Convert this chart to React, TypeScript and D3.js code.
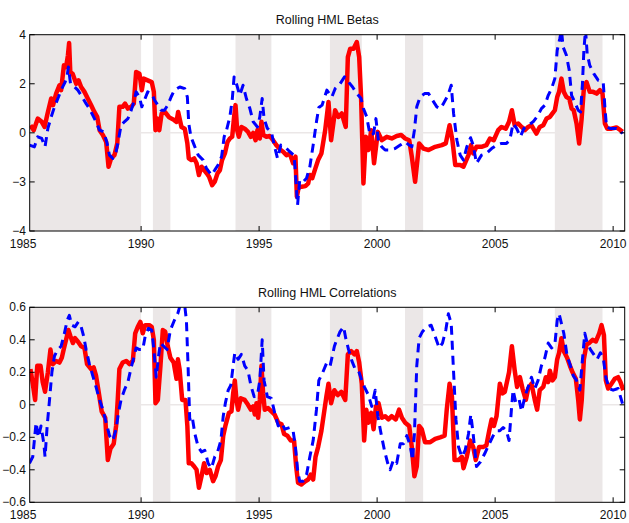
import React from 'react';
import * as d3 from 'd3';

const W = 629;
const H = 523;

// NBER-style shaded periods (fractional years)
const shadedPeriods: [number, number][] = [
  [1985.28, 1990.0], [1990.5, 1991.24], [1994.0, 1995.52],
  [1998.0, 1999.35], [2001.18, 2001.95], [2007.53, 2009.55],
];

const yearTicks = [1985, 1990, 1995, 2000, 2005, 2010];

const betaTicks = [4, 2, 0, -2, -4];
const betaTickLabels = ['4', '2', '0', '\u22123', '\u22124'];
const corrTicks = [0.6, 0.4, 0.2, 0, -0.2, -0.4, -0.6];
const corrTickLabels = ['0.6', '0.4', '0.2', '0', '\u22120.2', '\u22120.4', '\u22120.6'];

// rolling HML betas, solid red
const betaRed: [number, number][] = [
  [1985.31,0.31],[1985.45,0.11],[1985.62,0.58],[1985.79,0.45],[1985.91,0.24],[1986.02,0.72],[1986.19,1.40],[1986.27,1.13],
  [1986.40,1.60],[1986.54,1.94],[1986.61,1.74],[1986.73,2.75],[1986.82,2.68],[1986.90,3.16],[1986.95,3.66],[1987.00,2.48],
  [1987.10,2.41],[1987.25,2.00],[1987.35,2.14],[1987.46,1.87],[1987.60,1.67],[1987.74,1.40],[1987.88,1.13],[1988.02,0.85],
  [1988.14,0.65],[1988.24,0.11],[1988.38,-0.09],[1988.52,-0.37],[1988.62,-1.38],[1988.73,-1.04],[1988.87,-0.91],[1988.99,-0.43],
  [1989.08,1.06],[1989.22,1.06],[1989.32,1.19],[1989.44,0.99],[1989.58,1.06],[1989.69,1.19],[1989.79,2.48],[1989.93,2.41],
  [1990.03,1.74],[1990.11,2.21],[1990.28,2.14],[1990.45,2.07],[1990.54,1.67],[1990.61,0.11],[1990.70,0.58],[1990.77,0.11],
  [1990.87,0.79],[1991.01,0.85],[1991.19,0.63],[1991.40,0.52],[1991.50,0.45],[1991.57,0.85],[1991.71,0.24],[1991.85,0.17],
  [1991.96,-0.43],[1992.02,-1.04],[1992.13,-1.11],[1992.25,-1.04],[1992.35,-1.24],[1992.45,-1.72],[1992.56,-1.38],[1992.67,-1.52],
  [1992.78,-1.65],[1992.88,-1.79],[1993.01,-2.13],[1993.12,-1.99],[1993.24,-1.65],[1993.34,-1.52],[1993.43,-1.11],[1993.55,-0.84],
  [1993.66,-0.37],[1993.76,-0.23],[1993.86,-0.16],[1993.94,0.65],[1994.00,1.13],[1994.07,0.11],[1994.14,-0.16],[1994.25,0.24],
  [1994.39,0.17],[1994.53,0.04],[1994.65,-0.16],[1994.75,0.00],[1994.85,-0.30],[1994.93,0.11],[1995.03,-0.23],[1995.10,0.45],
  [1995.18,-0.09],[1995.31,-0.16],[1995.45,-0.13],[1995.59,-0.30],[1995.73,-0.50],[1995.92,-0.70],[1996.02,-0.77],[1996.16,-0.91],
  [1996.30,-0.84],[1996.44,-1.24],[1996.54,-0.97],[1996.60,-2.60],[1996.68,-2.20],[1996.80,-2.20],[1996.96,-2.17],[1997.08,-2.06],
  [1997.15,-1.72],[1997.25,-1.85],[1997.36,-1.52],[1997.50,-1.11],[1997.64,-0.84],[1997.80,0.11],[1997.94,1.26],[1998.05,-0.30],
  [1998.22,0.92],[1998.36,0.65],[1998.50,0.79],[1998.67,0.24],[1998.76,3.09],[1998.86,3.43],[1999.00,3.43],[1999.14,3.70],
  [1999.24,3.09],[1999.32,1.46],[1999.42,-2.06],[1999.52,-0.16],[1999.63,-0.70],[1999.75,0.11],[1999.87,-1.24],[2000.03,0.04],
  [2000.20,-0.30],[2000.41,-0.16],[2000.62,-0.23],[2000.83,-0.13],[2001.02,-0.09],[2001.19,-0.23],[2001.36,-0.30],[2001.47,-0.97],
  [2001.61,-1.99],[2001.78,-0.43],[2001.96,-0.64],[2002.18,-0.70],[2002.46,-0.57],[2002.74,-0.50],[2002.91,-0.43],[2003.07,0.31],
  [2003.19,-0.30],[2003.31,-1.31],[2003.52,-1.31],[2003.66,-1.38],[2003.87,-0.91],[2003.98,-0.50],[2004.07,-0.84],[2004.21,-0.57],
  [2004.42,-0.57],[2004.63,-0.50],[2004.78,-0.23],[2004.94,-0.30],[2005.13,0.11],[2005.27,0.24],[2005.45,0.17],[2005.59,0.45],
  [2005.71,0.92],[2005.83,0.31],[2005.98,0.38],[2006.12,0.24],[2006.26,0.11],[2006.40,0.24],[2006.54,0.31],[2006.64,0.14],
  [2006.75,-0.03],[2006.89,0.24],[2007.04,0.31],[2007.18,0.58],[2007.32,0.65],[2007.43,0.79],[2007.53,0.92],[2007.63,1.46],
  [2007.71,1.67],[2007.81,2.21],[2007.91,1.67],[2008.02,1.46],[2008.14,1.40],[2008.24,0.99],[2008.33,0.92],[2008.45,0.38],
  [2008.56,-0.43],[2008.66,0.52],[2008.76,1.80],[2008.87,2.07],[2009.01,1.67],[2009.15,1.67],[2009.30,1.60],[2009.44,1.74],
  [2009.55,1.60],[2009.65,0.38],[2009.75,0.17],[2009.93,0.17],[2010.14,0.22],[2010.31,0.11],[2010.40,0.04],
];

// rolling HML betas, dashed blue
const betaBlue: [number, number][] = [
  [1985.27,-0.50],[1985.48,-0.57],[1985.62,-0.16],[1985.79,-0.23],[1985.93,-0.57],[1986.05,0.18],[1986.19,0.65],[1986.33,1.06],
  [1986.50,1.46],[1986.61,1.74],[1986.78,2.07],[1986.87,2.35],[1986.92,2.68],[1987.01,2.00],[1987.11,1.94],[1987.32,1.74],
  [1987.46,1.53],[1987.67,1.19],[1987.81,0.99],[1987.95,0.72],[1988.09,0.45],[1988.24,0.11],[1988.42,0.04],[1988.56,-0.43],
  [1988.66,-0.91],[1988.80,-1.04],[1988.94,-0.77],[1989.04,-0.30],[1989.15,0.31],[1989.29,0.45],[1989.44,0.58],[1989.58,0.92],
  [1989.69,1.26],[1989.79,1.67],[1989.93,1.46],[1990.03,1.06],[1990.14,1.33],[1990.28,1.67],[1990.45,1.60],[1990.57,1.33],
  [1990.71,1.13],[1990.85,0.92],[1990.99,0.92],[1991.13,1.13],[1991.27,1.46],[1991.41,1.74],[1991.64,1.87],[1991.85,1.80],
  [1991.96,1.46],[1992.02,0.38],[1992.11,-0.16],[1992.25,-0.50],[1992.42,-0.91],[1992.63,-1.11],[1992.77,-1.45],[1992.98,-1.72],
  [1993.12,-1.52],[1993.26,-1.31],[1993.41,-0.97],[1993.52,-0.16],[1993.62,0.11],[1993.76,0.65],[1993.86,1.33],[1993.94,2.28],
  [1994.04,2.00],[1994.18,1.53],[1994.32,1.94],[1994.46,1.40],[1994.61,0.99],[1994.75,0.45],[1994.93,0.24],[1995.03,0.65],
  [1995.13,1.40],[1995.21,0.58],[1995.35,0.18],[1995.52,0.04],[1995.64,-0.50],[1995.78,-1.04],[1995.92,-0.50],[1996.09,-0.57],
  [1996.30,-0.77],[1996.48,-0.91],[1996.54,-1.65],[1996.63,-2.94],[1996.72,-1.92],[1996.87,-1.99],[1997.01,-1.85],[1997.15,-1.38],
  [1997.29,-0.50],[1997.43,0.45],[1997.53,1.03],[1997.67,1.13],[1997.87,1.74],[1998.08,1.46],[1998.22,1.80],[1998.43,2.00],
  [1998.62,2.28],[1998.79,2.07],[1998.96,1.87],[1999.14,1.60],[1999.32,1.40],[1999.42,0.99],[1999.56,0.65],[1999.70,-0.09],
  [1999.85,-0.03],[1999.95,0.58],[2000.06,-0.37],[2000.20,-0.57],[2000.34,-0.70],[2000.55,-0.70],[2000.76,-0.64],[2000.98,-0.50],
  [2001.19,-0.37],[2001.36,-0.50],[2001.47,-0.57],[2001.58,0.11],[2001.68,1.06],[2001.82,1.46],[2002.01,1.60],[2002.18,1.60],
  [2002.35,1.33],[2002.53,1.06],[2002.67,0.99],[2002.81,1.19],[2003.00,1.53],[2003.14,1.94],[2003.24,0.79],[2003.38,-0.30],
  [2003.52,-0.91],[2003.66,-1.11],[2003.80,-0.57],[2003.96,-0.20],[2004.07,-0.50],[2004.21,-1.24],[2004.42,-0.91],[2004.63,-0.84],
  [2004.85,-0.64],[2005.06,-0.50],[2005.27,-0.43],[2005.48,-0.43],[2005.62,-0.30],[2005.76,0.38],[2005.91,0.18],[2006.07,-0.16],
  [2006.22,0.18],[2006.40,0.31],[2006.61,0.45],[2006.82,0.72],[2006.96,0.99],[2007.11,1.13],[2007.25,1.53],[2007.39,1.80],
  [2007.53,2.21],[2007.63,3.36],[2007.74,3.84],[2007.81,4.20],[2007.88,3.50],[2008.02,3.16],[2008.14,2.55],[2008.24,1.53],
  [2008.37,1.26],[2008.52,0.92],[2008.62,0.85],[2008.70,2.00],[2008.76,3.36],[2008.83,4.20],[2008.90,3.23],[2009.01,2.75],
  [2009.18,2.41],[2009.37,2.14],[2009.58,2.07],[2009.65,1.06],[2009.72,0.24],[2009.86,0.18],[2010.14,0.18],[2010.28,0.11],
  [2010.40,-0.03],
];

// rolling HML correlations, solid red
const corrRed: [number, number][] = [
  [1985.31,0.22],[1985.41,0.13],[1985.51,0.03],[1985.60,0.24],[1985.74,0.24],[1985.83,0.14],[1985.93,0.08],[1986.05,0.20],
  [1986.16,0.34],[1986.26,0.25],[1986.40,0.27],[1986.54,0.26],[1986.64,0.29],[1986.72,0.34],[1986.82,0.40],[1986.92,0.46],
  [1987.01,0.42],[1987.11,0.38],[1987.20,0.41],[1987.32,0.39],[1987.46,0.36],[1987.60,0.35],[1987.71,0.25],[1987.88,0.22],
  [1987.99,0.23],[1988.09,0.18],[1988.19,0.09],[1988.33,-0.04],[1988.48,-0.08],[1988.59,-0.34],[1988.70,-0.27],[1988.84,-0.24],
  [1988.94,-0.13],[1989.01,0.03],[1989.08,0.22],[1989.22,0.26],[1989.37,0.27],[1989.51,0.25],[1989.65,0.27],[1989.75,0.44],
  [1989.86,0.48],[1989.97,0.51],[1990.07,0.44],[1990.17,0.49],[1990.35,0.49],[1990.45,0.48],[1990.54,0.40],[1990.61,0.01],
  [1990.71,0.03],[1990.82,0.24],[1990.92,0.46],[1991.02,0.45],[1991.13,0.36],[1991.24,0.29],[1991.38,0.26],[1991.50,0.16],
  [1991.56,0.28],[1991.63,0.22],[1991.74,0.03],[1991.88,0.03],[1991.96,-0.13],[1992.02,-0.36],[1992.13,-0.36],[1992.25,-0.38],
  [1992.35,-0.40],[1992.45,-0.51],[1992.56,-0.44],[1992.67,-0.36],[1992.78,-0.42],[1992.91,-0.40],[1993.05,-0.47],[1993.15,-0.44],
  [1993.26,-0.38],[1993.38,-0.34],[1993.48,-0.19],[1993.57,-0.13],[1993.72,-0.05],[1993.83,-0.04],[1993.90,0.07],[1993.97,0.15],
  [1994.04,0.03],[1994.11,-0.03],[1994.22,0.04],[1994.39,0.03],[1994.53,0.00],[1994.65,-0.03],[1994.75,-0.01],[1994.82,-0.06],
  [1994.89,0.01],[1994.96,-0.08],[1995.03,0.03],[1995.10,0.24],[1995.17,0.07],[1995.24,-0.03],[1995.38,-0.02],[1995.52,-0.04],
  [1995.66,-0.06],[1995.81,-0.11],[1995.95,-0.12],[1996.06,-0.18],[1996.20,-0.19],[1996.34,-0.22],[1996.48,-0.22],[1996.57,-0.38],
  [1996.65,-0.48],[1996.79,-0.49],[1996.96,-0.47],[1997.08,-0.46],[1997.19,-0.43],[1997.29,-0.46],[1997.39,-0.32],[1997.50,-0.26],
  [1997.64,-0.16],[1997.76,-0.04],[1997.85,0.05],[1997.94,0.13],[1998.05,0.01],[1998.19,0.09],[1998.33,0.06],[1998.48,0.08],
  [1998.65,0.03],[1998.76,0.31],[1998.90,0.33],[1999.04,0.31],[1999.14,0.33],[1999.24,0.26],[1999.35,0.13],[1999.45,-0.22],
  [1999.54,-0.03],[1999.63,-0.11],[1999.75,-0.05],[1999.85,-0.15],[1999.95,-0.01],[2000.06,0.01],[2000.20,-0.08],[2000.34,-0.07],
  [2000.48,-0.09],[2000.62,-0.07],[2000.79,-0.09],[2000.93,-0.03],[2001.05,-0.08],[2001.19,-0.11],[2001.36,-0.13],[2001.47,-0.26],
  [2001.58,-0.44],[2001.68,-0.38],[2001.78,-0.13],[2001.89,-0.15],[2002.03,-0.23],[2002.25,-0.23],[2002.46,-0.21],[2002.67,-0.20],
  [2002.86,-0.19],[2002.95,-0.03],[2003.07,0.13],[2003.17,0.05],[2003.28,-0.34],[2003.45,-0.34],[2003.59,-0.32],[2003.66,-0.39],
  [2003.80,-0.32],[2003.94,-0.22],[2004.07,-0.26],[2004.18,-0.34],[2004.32,-0.26],[2004.49,-0.26],[2004.63,-0.25],[2004.75,-0.16],
  [2004.85,-0.09],[2004.95,-0.13],[2005.06,-0.07],[2005.20,0.13],[2005.31,0.07],[2005.41,0.08],[2005.59,0.20],[2005.71,0.36],
  [2005.83,0.21],[2005.93,0.11],[2006.05,0.17],[2006.16,0.10],[2006.30,0.03],[2006.40,0.10],[2006.54,0.13],[2006.68,0.03],
  [2006.78,-0.03],[2006.89,0.09],[2007.04,0.11],[2007.15,0.17],[2007.25,0.14],[2007.32,0.21],[2007.43,0.15],[2007.53,0.17],
  [2007.63,0.28],[2007.71,0.32],[2007.81,0.41],[2007.91,0.33],[2008.05,0.29],[2008.17,0.24],[2008.28,0.20],[2008.42,0.16],
  [2008.52,0.03],[2008.59,-0.09],[2008.67,0.03],[2008.76,0.28],[2008.87,0.37],[2008.98,0.38],[2009.13,0.40],[2009.27,0.39],
  [2009.41,0.44],[2009.51,0.49],[2009.61,0.43],[2009.69,0.15],[2009.79,0.10],[2009.93,0.13],[2010.07,0.16],[2010.21,0.17],
  [2010.31,0.14],[2010.43,0.09],
];

// rolling HML correlations, dashed blue
const corrBlue: [number, number][] = [
  [1985.27,-0.36],[1985.41,-0.32],[1985.55,-0.11],[1985.65,-0.20],[1985.76,-0.13],[1985.88,-0.24],[1985.93,-0.32],[1986.02,-0.13],
  [1986.12,0.03],[1986.22,0.20],[1986.33,0.30],[1986.47,0.34],[1986.61,0.36],[1986.75,0.44],[1986.87,0.52],[1986.96,0.55],
  [1987.06,0.49],[1987.20,0.48],[1987.34,0.51],[1987.46,0.48],[1987.57,0.42],[1987.67,0.34],[1987.81,0.25],[1987.95,0.18],
  [1988.09,0.11],[1988.24,0.03],[1988.38,-0.03],[1988.52,-0.11],[1988.66,-0.19],[1988.80,-0.22],[1988.94,-0.15],[1989.04,-0.05],
  [1989.15,0.03],[1989.29,0.09],[1989.44,0.14],[1989.58,0.23],[1989.69,0.29],[1989.79,0.35],[1989.93,0.34],[1990.07,0.34],
  [1990.17,0.42],[1990.31,0.47],[1990.45,0.46],[1990.54,0.34],[1990.64,0.17],[1990.74,0.30],[1990.82,0.38],[1990.96,0.36],
  [1991.10,0.34],[1991.24,0.46],[1991.41,0.52],[1991.55,0.56],[1991.65,0.61],[1991.85,0.61],[1991.92,0.52],[1991.99,0.24],
  [1992.06,-0.09],[1992.16,-0.07],[1992.28,-0.18],[1992.42,-0.26],[1992.56,-0.29],[1992.70,-0.28],[1992.84,-0.36],[1992.98,-0.39],
  [1993.12,-0.32],[1993.24,-0.29],[1993.38,-0.22],[1993.48,-0.07],[1993.57,0.01],[1993.69,0.09],[1993.80,0.12],[1993.90,0.24],
  [1993.97,0.32],[1994.11,0.28],[1994.25,0.31],[1994.39,0.24],[1994.53,0.21],[1994.65,0.12],[1994.79,0.05],[1994.93,0.06],
  [1995.03,0.15],[1995.13,0.40],[1995.21,0.15],[1995.35,0.05],[1995.52,0.04],[1995.66,-0.05],[1995.81,-0.13],[1995.95,-0.11],
  [1996.09,-0.15],[1996.30,-0.14],[1996.44,-0.16],[1996.54,-0.26],[1996.63,-0.40],[1996.72,-0.47],[1996.86,-0.47],[1997.01,-0.43],
  [1997.15,-0.32],[1997.29,-0.22],[1997.43,-0.03],[1997.53,0.15],[1997.67,0.19],[1997.87,0.26],[1998.01,0.24],[1998.19,0.36],
  [1998.29,0.40],[1998.43,0.45],[1998.58,0.48],[1998.67,0.41],[1998.79,0.34],[1998.93,0.27],[1999.07,0.22],[1999.21,0.21],
  [1999.35,0.15],[1999.46,0.11],[1999.63,0.06],[1999.77,-0.01],[1999.92,0.09],[2000.03,-0.07],[2000.17,-0.18],[2000.31,-0.28],
  [2000.45,-0.36],[2000.55,-0.40],[2000.69,-0.34],[2000.83,-0.36],[2000.98,-0.24],[2001.12,-0.24],[2001.26,-0.19],[2001.40,-0.25],
  [2001.50,-0.34],[2001.58,-0.18],[2001.68,0.24],[2001.78,0.41],[2001.92,0.45],[2002.10,0.48],[2002.29,0.49],[2002.46,0.42],
  [2002.63,0.35],[2002.77,0.38],[2002.91,0.46],[2003.02,0.56],[2003.14,0.50],[2003.24,0.20],[2003.34,-0.09],[2003.45,-0.26],
  [2003.59,-0.32],[2003.73,-0.28],[2003.87,-0.18],[2003.97,-0.06],[2004.07,-0.18],[2004.21,-0.38],[2004.38,-0.35],[2004.56,-0.30],
  [2004.75,-0.24],[2004.92,-0.19],[2005.06,-0.16],[2005.20,-0.16],[2005.34,-0.14],[2005.48,-0.16],[2005.59,-0.22],[2005.69,-0.03],
  [2005.76,0.09],[2005.88,0.01],[2006.02,0.03],[2006.12,-0.04],[2006.26,0.05],[2006.40,0.11],[2006.54,0.17],[2006.68,0.10],
  [2006.82,0.15],[2006.96,0.24],[2007.11,0.29],[2007.25,0.38],[2007.39,0.35],[2007.53,0.37],[2007.63,0.52],[2007.71,0.56],
  [2007.81,0.50],[2007.91,0.44],[2008.05,0.30],[2008.17,0.25],[2008.31,0.18],[2008.45,0.15],[2008.59,0.09],[2008.70,0.28],
  [2008.80,0.44],[2008.90,0.38],[2009.04,0.34],[2009.18,0.31],[2009.32,0.28],[2009.46,0.32],[2009.58,0.29],[2009.69,0.17],
  [2009.83,0.10],[2010.00,0.09],[2010.21,0.10],[2010.31,0.05],[2010.43,-0.01],
];

const FONT = '"Liberation Sans", Arial, Helvetica, sans-serif';
const SHADE = '#ebe7e7';
const xDomain: [number, number] = [1985.28, 2010.49];
const plotLeft = 29.7;
const plotRight = 624.7;

type PanelProps = {
  id: string;
  title: string;
  titleY: number;
  top: number;
  bottom: number;
  yDomain: [number, number];
  yTicks: number[];
  yLabels: string[];
  labelGap: number;
  red: [number, number][];
  blue: [number, number][];
};

function Panel({ id, title, titleY, top, bottom, yDomain, yTicks, yLabels, labelGap, red, blue }: PanelProps) {
  const x = d3.scaleLinear().domain(xDomain).range([plotLeft, plotRight]);
  const y = d3.scaleLinear().domain(yDomain).range([bottom, top]);
  const line = d3.line<[number, number]>().x(d => x(d[0])).y(d => y(d[1]));
  const tickLen = 5;

  return (
    <g>
      <defs>
        <clipPath id={id}>
          <rect x={plotLeft} y={top} width={plotRight - plotLeft} height={bottom - top} />
        </clipPath>
      </defs>
      <text x={(plotLeft + plotRight) / 2} y={titleY} textAnchor="middle" fontSize={12.5} fontFamily={FONT} fill="#111">
        {title}
      </text>
      <rect x={plotLeft} y={top} width={plotRight - plotLeft} height={bottom - top} fill="#fff" />
      <g clipPath={`url(#${id})`}>
        {shadedPeriods.map(([a, b], i) => (
          <rect key={i} x={x(a)} y={top} width={x(b) - x(a)} height={bottom - top} fill={SHADE} />
        ))}
        <line x1={plotLeft} x2={plotRight} y1={y(0)} y2={y(0)} stroke={SHADE} strokeWidth={1.5} />
        <path d={line(red) ?? ''} fill="none" stroke="#ff0000" strokeWidth={4.5} strokeLinejoin="round" />
        <path d={line(blue) ?? ''} fill="none" stroke="#0000ff" strokeWidth={3} strokeDasharray="9,6" strokeLinejoin="round" />
      </g>
      {/* x ticks, inward on top and bottom */}
      {yearTicks.filter(t => x(t) > plotLeft + 1).map(t => (
        <g key={t}>
          <line x1={x(t)} x2={x(t)} y1={bottom} y2={bottom - tickLen} stroke="#000" />
          <line x1={x(t)} x2={x(t)} y1={top} y2={top + tickLen} stroke="#000" />
        </g>
      ))}
      {yearTicks.map(t => (
        <text key={t} x={Math.max(x(t), 18)} y={bottom + labelGap} textAnchor="middle" fontSize={12} fontFamily={FONT} fill="#111">
          {t}
        </text>
      ))}
      {/* y ticks, inward on left and right */}
      {yTicks.map((v, i) => (
        <g key={v}>
          <line x1={plotLeft} x2={plotLeft + tickLen} y1={y(v)} y2={y(v)} stroke="#000" />
          <line x1={plotRight} x2={plotRight - tickLen} y1={y(v)} y2={y(v)} stroke="#000" />
          <text x={26} y={y(v)} dy="0.33em" textAnchor="end" fontSize={12} fontFamily={FONT} fill="#111">
            {yLabels[i]}
          </text>
        </g>
      ))}
      <rect x={plotLeft} y={top} width={plotRight - plotLeft} height={bottom - top} fill="none" stroke="#000" strokeWidth={1} />
    </g>
  );
}

export default function App() {
  return (
    <svg width={W} height={H} style={{ position: 'absolute', left: 0, top: 0, background: '#fff' }}>
      <rect width={W} height={H} fill="#fff" />
      <Panel
        id="clip-beta"
        title="Rolling HML Betas"
        titleY={24}
        top={34.7}
        bottom={231}
        yDomain={[-4, 4]}
        yTicks={betaTicks}
        yLabels={betaTickLabels}
        labelGap={16.5}
        red={betaRed}
        blue={betaBlue}
      />
      <Panel
        id="clip-corr"
        title="Rolling HML Correlations"
        titleY={297}
        top={307.3}
        bottom={502.3}
        yDomain={[-0.6, 0.6]}
        yTicks={corrTicks}
        yLabels={corrTickLabels}
        labelGap={16.5}
        red={corrRed}
        blue={corrBlue}
      />
    </svg>
  );
}
